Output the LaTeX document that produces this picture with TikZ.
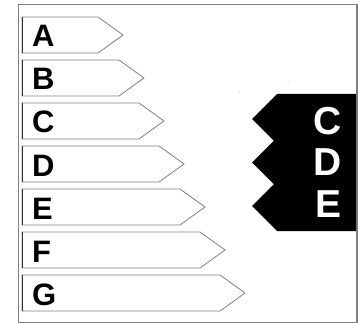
\documentclass[tikz,border=0pt]{standalone}
\usepackage{fontspec}
\setmainfont{Liberation Sans}
\begin{document}
\begin{tikzpicture}[x=1pt,y=-1pt,
  framecol/.style={draw=black!50,line width=1pt},
  labelarrow/.style={draw=black!50,fill=white,line width=0.8pt,line join=miter},
  labeledge/.style={draw=black!80,line width=0.9pt},
  labeltext/.style={anchor=base west,inner sep=0pt,font=\fontsize{31}{31}\selectfont\bfseries},
  bigtext/.style={anchor=base,inner sep=0pt,text=white,font=\fontsize{39}{39}\selectfont\bfseries}]
\useasboundingbox (0,0) rectangle (358,323);
\fill[white] (0,0) rectangle (358,323);
% outer frame
\draw[framecol] (356,5) -- (18,5) -- (18,322) -- (356,322);
\fill[black!50] (356,4.5) rectangle (358,322.5);
% label arrows
\foreach \t/\r/\l [count=\i] in {17/98/A,60/119/B,103/139/C,146/159/D,189/180/E,232/200/F,275/220/G}{
  \draw[labelarrow] (22,\t) -- (\r,\t) -- ({\r+25},{\t+18}) -- (\r,{\t+36}) -- (22,{\t+36}) -- cycle;
  \draw[labeledge] (22,\t) -- (22,{\t+36});
  \node[labeltext] (lab\i) at (32,{\t+30}) {\l};
}
% black stacked arrows
\fill[black] (356,94) -- (277,94) -- (252,119) -- (273.75,140.75) -- (252,162.5)
  -- (273.75,184.25) -- (252,206) -- (277,231) -- (356,231) -- cycle;
\node[bigtext] (bc) at (328,135) {C};
\node[bigtext] (bd) at (328,175) {D};
\node[bigtext] (be) at (328,217) {E};
% tiny specks
\fill[black!40] (239,92) circle (0.5);
\fill[black!40] (288,82) circle (0.5);
\end{tikzpicture}
\end{document}
